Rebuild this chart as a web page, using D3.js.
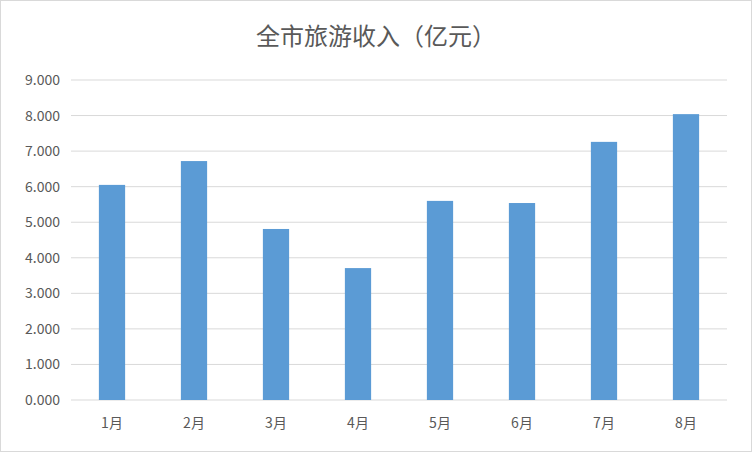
<!DOCTYPE html>
<html><head><meta charset="utf-8">
<script src="https://cdn.jsdelivr.net/npm/d3@7"></script>
<style>body{margin:0;background:#fff}</style>
</head><body><div id="chart"></div>
<script>
var months = ["1月","2月","3月","4月","5月","6月","7月","8月"];
var income = [6.05, 6.72, 4.81, 3.71, 5.60, 5.54, 7.26, 8.04];
var yTicks = [0,1,2,3,4,5,6,7,8,9];

var w = 752, h = 452;
var font = "'Noto Sans CJK SC', 'Noto Sans', sans-serif";
var svg = d3.select("#chart").append("svg").attr("width", w).attr("height", h);

svg.append("rect").attr("x", 0.5).attr("y", 0.5).attr("width", w - 1).attr("height", h - 1)
   .attr("fill", "#fff").attr("stroke", "#d9d9d9");

var x = d3.scaleBand().domain(months).range([71, 727]).paddingInner(0.68).paddingOuter(0.34);
var y = d3.scaleLinear().domain([0, 9]).range([400, 80]);

// gridlines
svg.selectAll(".grid").data(yTicks).enter().append("line")
   .attr("x1", 71).attr("x2", 727)
   .attr("y1", d => y(d)).attr("y2", d => y(d))
   .attr("stroke", "#d9d9d9");

// y labels
svg.selectAll(".yl").data(yTicks).enter().append("text")
   .attr("x", 60).attr("y", d => y(d) + 5)
   .attr("text-anchor", "end").attr("font-family", font).attr("font-size", 14)
   .attr("fill", "#595959").text(d => d3.format(".3f")(d));

// bars
svg.selectAll(".bar").data(income).enter().append("rect")
   .attr("x", (d, i) => x(months[i])).attr("width", x.bandwidth())
   .attr("y", d => y(d)).attr("height", d => y(0) - y(d))
   .attr("fill", "#5b9bd5");

// x labels
svg.selectAll(".xl").data(months).enter().append("text")
   .attr("x", d => x(d) + x.bandwidth() / 2).attr("y", 428)
   .attr("text-anchor", "middle").attr("font-family", font).attr("font-size", 14)
   .attr("fill", "#595959").text(d => d);

svg.append("text").attr("x", w / 2).attr("y", 45)
   .attr("text-anchor", "middle").attr("font-family", font).attr("font-size", 24)
   .attr("fill", "#595959").text("全市旅游收入（亿元）");
</script></body></html>
